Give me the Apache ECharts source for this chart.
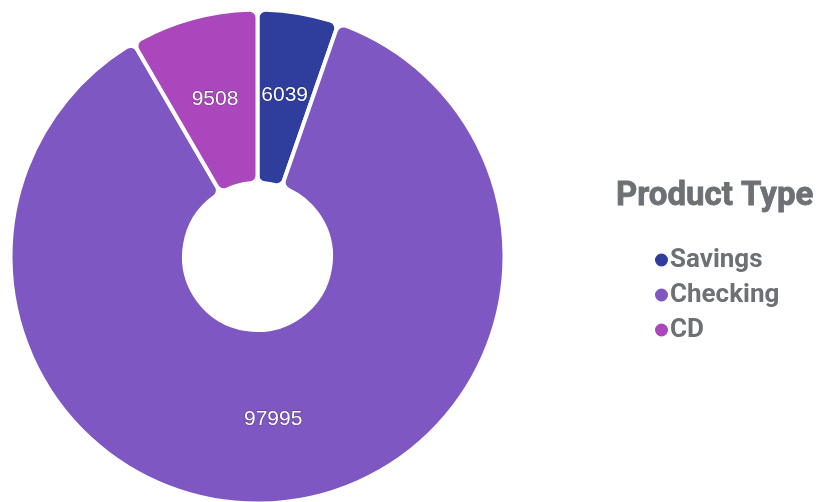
<!DOCTYPE html>
<html><head><meta charset="utf-8">
<script src="https://cdn.jsdelivr.net/npm/echarts@6/dist/echarts.min.js"></script>
<style>html,body{margin:0;padding:0;background:#fff}#c{width:817px;height:502px}</style>
</head><body><div id="c"></div>
<script>
const categories = ['Savings', 'Checking', 'CD'];
const values = [6039, 97995, 9508];
const colors = ['#2f3d9c', '#7e57c2', '#ab47bc'];
const legendTitle = 'Product Type';

const chart = echarts.init(document.getElementById('c'));
chart.setOption({
  animation: false,
  color: colors,
  title: {
    text: legendTitle, left: 611, top: 175,
    textStyle: { fontFamily: 'Roboto', fontSize: 33, fontWeight: 'bold', color: '#6d7074',
      textBorderColor: '#6d7074', textBorderWidth: 0.8 }
  },
  legend: {
    orient: 'vertical', left: 648, top: 242, itemGap: 9,
    icon: 'circle', itemWidth: 15, itemHeight: 15,
    data: categories,
    textStyle: { fontFamily: 'Roboto', fontSize: 26, fontWeight: 'bold', color: '#6d7074', padding: [0,0,0,-4] }
  },
  series: [{
    type: 'pie',
    center: [257.5, 256.5],
    radius: [73.5, 247],
    startAngle: 90,
    clockwise: true,
    itemStyle: { borderColor: '#fff', borderWidth: 4, borderRadius: 8 },
    label: {
      show: true, position: 'inside', formatter: '{c}',
      color: '#fff', fontFamily: 'Liberation Sans', fontSize: 21,
      textBorderColor: 'rgba(0,0,0,0.35)', textBorderWidth: 1
    },
    labelLine: { show: false },
    emphasis: { disabled: true },
    data: categories.map((n, i) => ({ name: n, value: values[i] }))
  }]
});
</script></body></html>
